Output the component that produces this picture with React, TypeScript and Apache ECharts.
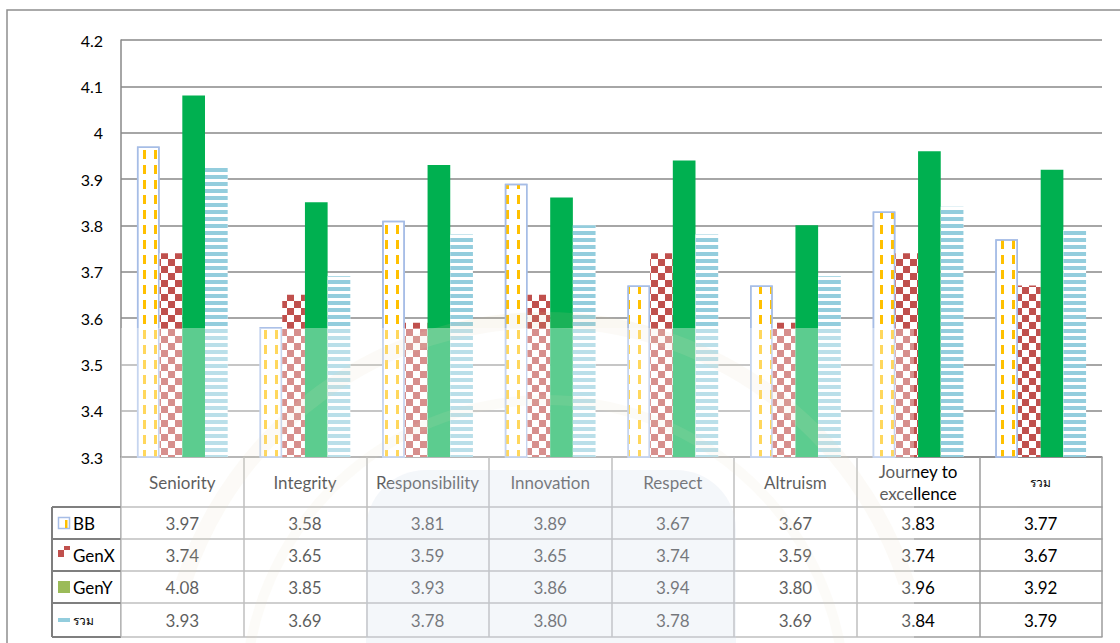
import React, { useEffect, useRef } from "react";
import * as echarts from "echarts";

const categories = [
  "Seniority",
  "Integrity",
  "Responsibility",
  "Innovation",
  "Respect",
  "Altruism",
  "Journey to\nexcellence",
  "รวม",
];
const seriesNames = ["BB", "GenX", "GenY", "รวม"];
const bbValues = [3.97, 3.58, 3.81, 3.89, 3.67, 3.67, 3.83, 3.77];
const genXValues = [3.74, 3.65, 3.59, 3.65, 3.74, 3.59, 3.74, 3.67];
const genYValues = [4.08, 3.85, 3.93, 3.86, 3.94, 3.8, 3.96, 3.92];
const totalValues = [3.93, 3.69, 3.78, 3.8, 3.78, 3.69, 3.84, 3.79];
const yTickLabels = ["3.3", "3.4", "3.5", "3.6", "3.7", "3.8", "3.9", "4", "4.1", "4.2"];

const FONT = 'Lato, "Noto Sans", "DejaVu Sans", sans-serif';
const GRID_LINE = "#888888";
const TABLE_LINE = "#9c9c9c";

export default function App() {
  const ref = useRef<HTMLDivElement>(null);

  useEffect(() => {
    if (!ref.current) return;
    const chart = echarts.init(ref.current, undefined, { renderer: "svg" });

    const rowValues = [bbValues, genXValues, genYValues, totalValues];
    const rowOffsets = [50, 82, 114, 146];
    const rowMargins = [16, 16, 16, 17];

    const rowAxes = rowValues.map((vals, i) => ({
      type: "category",
      gridIndex: 0,
      position: "bottom",
      offset: rowOffsets[i],
      data: categories,
      axisLine: { show: true, lineStyle: { color: TABLE_LINE, width: 1.5 } },
      axisTick: { show: false },
      splitLine: { show: false },
      axisLabel: {
        interval: 0,
        hideOverlap: false,
        margin: rowMargins[i],
        verticalAlign: "middle",
        color: "#000",
        fontFamily: FONT,
        fontSize: 17,
        formatter: (_v: string, idx: number) => vals[idx].toFixed(2),
      },
    }));

    const bottomLineAxis = {
      type: "category",
      gridIndex: 0,
      position: "bottom",
      offset: 180,
      data: categories,
      axisLine: { show: true, lineStyle: { color: TABLE_LINE, width: 1.5 } },
      axisTick: { show: false },
      axisLabel: { show: false },
    };

    const legendRowsY = [523, 555, 587, 620];
    const legendGraphics: any[] = [];
    legendGraphics.push({
      type: "line",
      silent: true,
      shape: { x1: 52, y1: 507, x2: 52, y2: 637 },
      style: { stroke: "#7f7f7f", lineWidth: 2 },
    });
    [507, 539, 571, 603, 637].forEach((y) =>
      legendGraphics.push({
        type: "line",
        silent: true,
        shape: { x1: 52, y1: y, x2: 121, y2: y },
        style: { stroke: "#7f7f7f", lineWidth: 2 },
      })
    );
    legendGraphics.push({
      type: "rect",
      silent: true,
      shape: { x: 58.5, y: 517.5, width: 11, height: 11 },
      style: { fill: "#fff", stroke: "#A6BDE6", lineWidth: 1.5 },
    });
    legendGraphics.push({
      type: "rect",
      silent: true,
      shape: { x: 65, y: 520, width: 2.5, height: 8 },
      style: { fill: "#FFC000" },
    });
    legendGraphics.push({
      type: "rect",
      silent: true,
      shape: { x: 58, y: 550, width: 6, height: 7 },
      style: { fill: "#C0504D" },
    });
    legendGraphics.push({
      type: "rect",
      silent: true,
      shape: { x: 64, y: 546, width: 6, height: 4 },
      style: { fill: "#C0504D" },
    });
    legendGraphics.push({
      type: "rect",
      silent: true,
      shape: { x: 58, y: 581, width: 12, height: 12 },
      style: { fill: "#9BBB59" },
    });
    legendGraphics.push({
      type: "rect",
      silent: true,
      shape: { x: 58, y: 618, width: 12, height: 4 },
      style: { fill: "#93CDDD" },
    });
    seriesNames.forEach((name, i) =>
      legendGraphics.push({
        type: "text",
        silent: true,
        x: 73,
        y: legendRowsY[i],
        style: {
          text: name,
          fill: "#000",
          font: `${i === 3 ? 12 : 17}px ${FONT}`,
          verticalAlign: "middle",
          align: "left",
        },
      })
    );

    const watermark: any[] = [
      {
        type: "rect",
        silent: true,
        z: 100,
        shape: { x: 366, y: 470, width: 370, height: 173, r: [60, 60, 0, 0] },
        style: { fill: "rgba(178,196,224,0.22)" },
      },
      {
        type: "arc",
        silent: true,
        z: 100,
        shape: { cx: 545, cy: 700, r: 380, startAngle: Math.PI * 1.1, endAngle: Math.PI * 1.9 },
        style: { stroke: "rgba(214,196,150,0.12)", lineWidth: 16, fill: "none" },
      },
      {
        type: "arc",
        silent: true,
        z: 100,
        shape: { cx: 545, cy: 700, r: 300, startAngle: Math.PI * 1.05, endAngle: Math.PI * 1.95 },
        style: { stroke: "rgba(214,196,150,0.10)", lineWidth: 10, fill: "none" },
      },
      {
        type: "rect",
        silent: true,
        z: 101,
        shape: { x: 121, y: 328, width: 793, height: 315 },
        style: { fill: "rgba(255,255,255,0.36)" },
      },
    ];

    const barBase = { type: "bar", barWidth: "18.5%", barGap: "0%", xAxisIndex: 0, yAxisIndex: 0 };

    chart.setOption({
      animation: false,
      backgroundColor: "#fff",
      textStyle: { fontFamily: FONT },
      grid: { left: 121, right: 18, top: 40, bottom: 186, containLabel: false, outerBoundsMode: "none" },
      xAxis: [
        {
          type: "category",
          gridIndex: 0,
          position: "bottom",
          data: categories,
          axisLine: { show: true, lineStyle: { color: GRID_LINE, width: 1.5 } },
          axisTick: {
            show: true,
            interval: 0,
            alignWithLabel: false,
            length: 180,
            lineStyle: { color: TABLE_LINE, width: 1.5 },
          },
          axisLabel: {
            interval: 0,
            hideOverlap: false,
            margin: 25,
            verticalAlign: "middle",
            lineHeight: 22,
            color: "#000",
            fontFamily: FONT,
            fontSize: 17,
            formatter: (v: string) => (v === "รวม" ? "{s|" + v + "}" : v),
            rich: { s: { fontSize: 12, fontFamily: FONT, color: "#000" } },
          },
        },
        ...rowAxes,
        bottomLineAxis,
      ],
      yAxis: {
        type: "value",
        min: 3.3,
        max: 4.2,
        interval: 0.1,
        axisLine: { show: true, lineStyle: { color: GRID_LINE, width: 1.5 } },
        axisTick: { show: false },
        splitLine: { show: true, lineStyle: { color: GRID_LINE, width: 1.5 } },
        axisLabel: {
          margin: 18,
          color: "#000",
          fontFamily: FONT,
          fontSize: 16,
          formatter: (v: number) => {
            const idx = Math.round((v - 3.3) * 10);
            return yTickLabels[idx] ?? String(v);
          },
        },
      },
      series: [
        {
          ...barBase,
          name: seriesNames[0],
          data: bbValues,
          itemStyle: {
            color: "#ffffff",
            borderColor: "#A6BDE6",
            borderWidth: 1.5,
            decal: {
              symbol: "rect",
              symbolSize: 1,
              color: "#FFC000",
              dashArrayX: [3, 8],
              dashArrayY: [9, 6],
            },
          },
        },
        {
          ...barBase,
          name: seriesNames[1],
          data: genXValues,
          itemStyle: {
            color: "#ffffff",
            decal: {
              symbol: "rect",
              symbolSize: 1,
              color: "#C0504D",
              dashArrayX: [
                [7, 7],
                [0, 7, 7, 0],
              ],
              dashArrayY: [7, 0],
            },
          },
        },
        {
          ...barBase,
          name: seriesNames[2],
          data: genYValues,
          itemStyle: { color: "#00B050" },
        },
        {
          ...barBase,
          name: seriesNames[3],
          data: totalValues,
          itemStyle: {
            color: "#ffffff",
            decal: {
              symbol: "rect",
              symbolSize: 1,
              color: "#93CDDD",
              dashArrayX: [1, 0],
              dashArrayY: [3.5, 3],
            },
          },
        },
      ],
      graphic: [
        {
          type: "rect",
          silent: true,
          z: -10,
          shape: { x: 7, y: 10, width: 1140, height: 660 },
          style: { fill: "none", stroke: "#8e8e8e", lineWidth: 1.5 },
        },
        ...legendGraphics,
        ...watermark,
      ],
    });

    return () => chart.dispose();
  }, []);

  return (
    <div
      ref={ref}
      style={{ position: "fixed", left: 0, top: 0, width: 1120, height: 643, background: "#fff" }}
    />
  );
}
